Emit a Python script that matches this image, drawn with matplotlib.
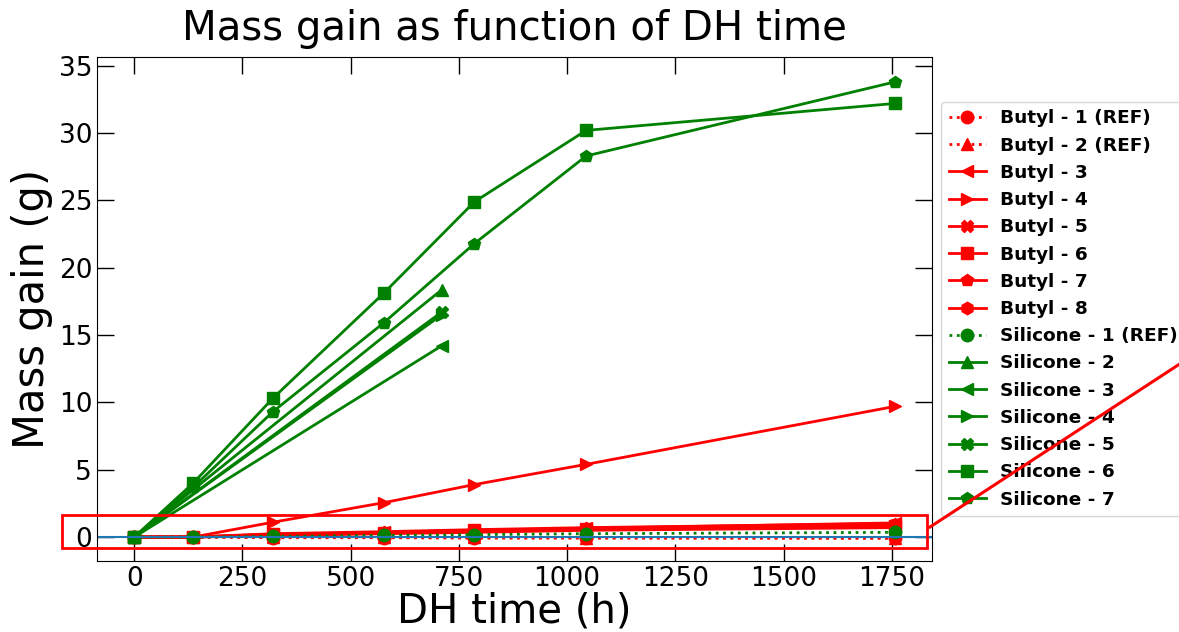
# coding=utf-8
import matplotlib
matplotlib.use('Agg')
import matplotlib.pyplot as plt
from matplotlib.patches import Rectangle
from matplotlib.lines import Line2D

# DH time (h)
times = [0, 136, 320, 576, 786, 1044, 1757]
short_times = [0, 710]

# Butyl samples, mass gain (g)
butyl_1 = [0, 0.0, -0.05, -0.05, -0.08, -0.08, -0.1]
butyl_2 = [0, 0.0, 0.0, -0.02, -0.02, -0.05, -0.05]
butyl_3 = [0, 0.0, 0.2, 0.35, 0.5, 0.65, 1.05]
butyl_4 = [0, 0.0, 1.1, 2.55, 3.9, 5.4, 9.7]
butyl_5 = [0, 0.0, 0.15, 0.3, 0.45, 0.6, 0.9]
butyl_6 = [0, 0.0, 0.2, 0.3, 0.5, 0.6, 0.85]
butyl_7 = [0, 0.0, 0.25, 0.4, 0.55, 0.7, 1.0]
butyl_8 = [0, 0.0, 0.1, 0.25, 0.35, 0.5, 0.7]

# Silicone samples, mass gain (g)
silicone_1 = [0, 0.0, 0.05, 0.12, 0.18, 0.25, 0.35]
silicone_2 = [0, 18.35]
silicone_3 = [0, 14.2]
silicone_4 = [0, 16.5]
silicone_5 = [0, 16.7]
silicone_6 = [0, 4.0, 10.3, 18.1, 24.9, 30.2, 32.2]
silicone_7 = [0, 3.7, 9.3, 15.9, 21.8, 28.3, 33.8]

butyl_names = ['Butyl - 1 (REF)', 'Butyl - 2 (REF)', 'Butyl - 3', 'Butyl - 4',
               'Butyl - 5', 'Butyl - 6', 'Butyl - 7', 'Butyl - 8']
silicone_names = ['Silicone - 1 (REF)', 'Silicone - 2', 'Silicone - 3', 'Silicone - 4',
                  'Silicone - 5', 'Silicone - 6', 'Silicone - 7']

fig = plt.figure(figsize=(11.79, 6.32), dpi=100)
ax = fig.add_axes([0.0823, 0.1123, 0.7082, 0.7975])

butyl_data = [butyl_1, butyl_2, butyl_3, butyl_4, butyl_5, butyl_6, butyl_7, butyl_8]
butyl_markers = ['o', '^', '<', '>', 'X', 's', 'p', 'h']
for i, vals in enumerate(butyl_data):
    ls = ':' if i < 2 else '-'
    ax.plot(times, vals, color='red', ls=ls, marker=butyl_markers[i], ms=9, lw=2,
            label=butyl_names[i])

silicone_data = [(times, silicone_1), (short_times, silicone_2), (short_times, silicone_3),
                 (short_times, silicone_4), (short_times, silicone_5),
                 (times, silicone_6), (times, silicone_7)]
silicone_markers = ['o', '^', '<', '>', 'X', 's', 'p']
for i, (t, vals) in enumerate(silicone_data):
    ls = ':' if i == 0 else '-'
    ax.plot(t, vals, color='green', ls=ls, marker=silicone_markers[i], ms=9, lw=2,
            label=silicone_names[i])

ax.axhline(0, color='C0', lw=1.5)

ax.set_xlim(-86, 1843)
ax.set_ylim(-1.78, 35.65)
ax.set_xticks([0, 250, 500, 750, 1000, 1250, 1500, 1750])
ax.set_yticks([0, 5, 10, 15, 20, 25, 30, 35])
ax.tick_params(direction='in', length=12, width=1, top=True, right=True, labelsize=19)

ax.set_title('Mass gain as function of DH time', fontsize=29, pad=12)
ax.set_xlabel('DH time (h)', fontsize=29, labelpad=0)
ax.set_ylabel('Mass gain (g)', fontsize=30)

# zoom box around the zero region
rect = Rectangle((-166, -0.82), 1997, 2.45, fill=False, edgecolor='red', lw=2, clip_on=False,
                 zorder=5)
ax.add_patch(rect)

ax.legend(loc='center left', bbox_to_anchor=(1.0, 0.5), prop={'weight': 'bold', 'size': 13.3})

# connector line going off to the right
fig.add_artist(Line2D([0.7888, 1.02], [0.1661, 0.4477], color='red', lw=2.2,
                      transform=fig.transFigure, zorder=10))

fig.savefig('out.png', dpi=100)
